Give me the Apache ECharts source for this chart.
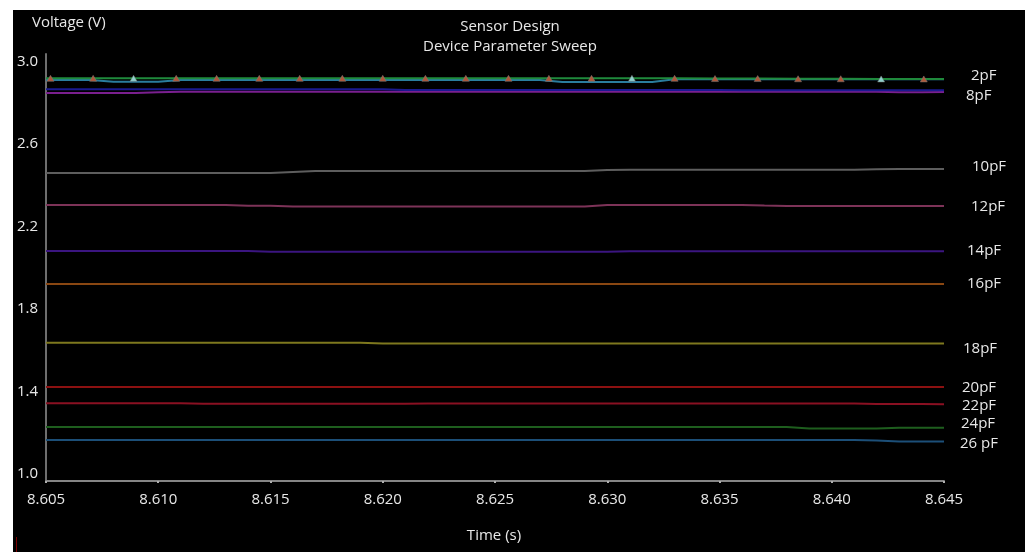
<!DOCTYPE html>
<html>
<head>
<meta charset="utf-8">
<script src="https://cdn.jsdelivr.net/npm/echarts@6/dist/echarts.min.js"></script>
<style>
  html, body { margin: 0; padding: 0; background: #ffffff; }
  #chart { position: absolute; left: 13px; top: 10px; width: 1012px; height: 542px; background: #000000; }
</style>
</head>
<body>
<div id="chart"></div>
<script>
// Sample times (s) shared by most traces
const sweepTimes = [
  8.605, 8.606, 8.607, 8.608, 8.609, 8.610, 8.611, 8.612, 8.613, 8.614,
  8.615, 8.616, 8.617, 8.618, 8.619, 8.620, 8.621, 8.622, 8.623, 8.624,
  8.625, 8.626, 8.627, 8.628, 8.629, 8.630, 8.631, 8.632, 8.633, 8.634,
  8.635, 8.636, 8.637, 8.638, 8.639, 8.640, 8.641, 8.642, 8.643, 8.644,
  8.645
];

// The 2pF trace is logged with its own marker samples
const trace2Times = [
  8.6050, 8.6052, 8.6071, 8.6089, 8.6108, 8.6126, 8.6145, 8.6163, 8.6182,
  8.6200, 8.6219, 8.6237, 8.6256, 8.6274, 8.6293, 8.6311, 8.6330, 8.6348,
  8.6367, 8.6385, 8.6404, 8.6422, 8.6441, 8.6450
];
const v2pF = [
  2.952, 2.952, 2.952, 2.952, 2.952, 2.952, 2.952, 2.952, 2.952,
  2.952, 2.952, 2.952, 2.952, 2.952, 2.952, 2.952, 2.952, 2.951,
  2.951, 2.950, 2.950, 2.949, 2.949, 2.949
];

const v4pF = [
  2.944, 2.944, 2.944, 2.935, 2.935, 2.935, 2.944, 2.944, 2.944, 2.944,
  2.944, 2.944, 2.944, 2.944, 2.944, 2.944, 2.944, 2.944, 2.944, 2.944,
  2.944, 2.944, 2.944, 2.934, 2.934, 2.934, 2.934, 2.934, 2.948, 2.948,
  2.948, 2.948, 2.948, 2.948, 2.948, 2.948, 2.948, 2.948, 2.948, 2.948,
  2.948
];
const v6pF = [
  2.899, 2.899, 2.899, 2.899, 2.899, 2.899, 2.899, 2.899, 2.899, 2.899,
  2.899, 2.899, 2.899, 2.899, 2.899, 2.899, 2.896, 2.896, 2.896, 2.896,
  2.896, 2.896, 2.896, 2.896, 2.896, 2.896, 2.896, 2.896, 2.896, 2.896,
  2.896, 2.894, 2.894, 2.894, 2.894, 2.894, 2.894, 2.894, 2.894, 2.894,
  2.894
];
const v8pF = [
  2.881, 2.881, 2.881, 2.881, 2.881, 2.884, 2.887, 2.887, 2.887, 2.887,
  2.887, 2.887, 2.887, 2.887, 2.887, 2.887, 2.887, 2.887, 2.887, 2.887,
  2.887, 2.887, 2.887, 2.887, 2.887, 2.887, 2.887, 2.887, 2.887, 2.887,
  2.887, 2.887, 2.887, 2.887, 2.887, 2.887, 2.887, 2.887, 2.884, 2.884,
  2.886
];
const v10pF = [
  2.493, 2.493, 2.493, 2.493, 2.493, 2.493, 2.493, 2.493, 2.493, 2.493,
  2.493, 2.498, 2.503, 2.503, 2.503, 2.503, 2.503, 2.503, 2.503, 2.503,
  2.503, 2.503, 2.503, 2.503, 2.503, 2.508, 2.509, 2.509, 2.509, 2.509,
  2.509, 2.509, 2.509, 2.509, 2.509, 2.509, 2.509, 2.511, 2.512, 2.512,
  2.512
];
const v12pF = [
  2.338, 2.338, 2.338, 2.338, 2.338, 2.338, 2.338, 2.338, 2.338, 2.334,
  2.334, 2.331, 2.331, 2.331, 2.331, 2.331, 2.331, 2.331, 2.331, 2.331,
  2.331, 2.331, 2.331, 2.331, 2.331, 2.338, 2.338, 2.338, 2.338, 2.338,
  2.338, 2.338, 2.335, 2.333, 2.333, 2.333, 2.333, 2.333, 2.333, 2.333,
  2.333
];
const v14pF = [
  2.115, 2.115, 2.115, 2.115, 2.115, 2.115, 2.115, 2.115, 2.115, 2.115,
  2.111, 2.111, 2.111, 2.111, 2.111, 2.111, 2.111, 2.111, 2.111, 2.111,
  2.111, 2.111, 2.111, 2.111, 2.111, 2.111, 2.114, 2.114, 2.114, 2.114,
  2.114, 2.114, 2.114, 2.114, 2.114, 2.114, 2.114, 2.114, 2.114, 2.114,
  2.114
];
const v16pF = [
  1.955, 1.955, 1.955, 1.955, 1.955, 1.955, 1.955, 1.955, 1.955, 1.955,
  1.955, 1.955, 1.955, 1.955, 1.955, 1.955, 1.955, 1.955, 1.955, 1.955,
  1.955, 1.955, 1.955, 1.955, 1.955, 1.955, 1.955, 1.955, 1.955, 1.955,
  1.955, 1.955, 1.955, 1.955, 1.955, 1.955, 1.955, 1.955, 1.955, 1.955,
  1.955
];
const v18pF = [
  1.670, 1.670, 1.670, 1.670, 1.670, 1.670, 1.670, 1.670, 1.670, 1.670,
  1.670, 1.670, 1.670, 1.670, 1.670, 1.667, 1.667, 1.667, 1.667, 1.667,
  1.667, 1.667, 1.667, 1.667, 1.667, 1.667, 1.667, 1.667, 1.667, 1.667,
  1.667, 1.667, 1.667, 1.667, 1.667, 1.667, 1.667, 1.667, 1.667, 1.667,
  1.667
];
const v20pF = [
  1.456, 1.456, 1.456, 1.456, 1.456, 1.456, 1.456, 1.456, 1.456, 1.456,
  1.456, 1.456, 1.456, 1.456, 1.456, 1.456, 1.456, 1.456, 1.456, 1.456,
  1.456, 1.456, 1.456, 1.456, 1.456, 1.456, 1.456, 1.456, 1.456, 1.456,
  1.456, 1.456, 1.456, 1.456, 1.456, 1.456, 1.456, 1.456, 1.456, 1.456,
  1.456
];
const v22pF = [
  1.377, 1.377, 1.377, 1.377, 1.377, 1.377, 1.377, 1.374, 1.374, 1.374,
  1.374, 1.374, 1.374, 1.374, 1.374, 1.374, 1.374, 1.376, 1.376, 1.376,
  1.376, 1.376, 1.376, 1.376, 1.376, 1.376, 1.376, 1.376, 1.376, 1.376,
  1.376, 1.376, 1.376, 1.376, 1.376, 1.376, 1.376, 1.373, 1.373, 1.373,
  1.372
];
const v24pF = [
  1.262, 1.262, 1.262, 1.262, 1.262, 1.262, 1.262, 1.262, 1.262, 1.262,
  1.262, 1.262, 1.262, 1.262, 1.262, 1.262, 1.262, 1.262, 1.262, 1.262,
  1.262, 1.262, 1.262, 1.262, 1.262, 1.262, 1.262, 1.262, 1.262, 1.262,
  1.262, 1.262, 1.262, 1.262, 1.255, 1.255, 1.255, 1.255, 1.258, 1.258,
  1.258
];
const v26pF = [
  1.199, 1.199, 1.199, 1.199, 1.199, 1.199, 1.199, 1.199, 1.199, 1.199,
  1.199, 1.199, 1.199, 1.199, 1.199, 1.199, 1.199, 1.199, 1.199, 1.199,
  1.199, 1.199, 1.199, 1.199, 1.199, 1.199, 1.199, 1.199, 1.199, 1.199,
  1.199, 1.199, 1.199, 1.199, 1.199, 1.199, 1.199, 1.196, 1.191, 1.191,
  1.191
];

// Axis tick labels
const timeTicks = ['8.605', '8.610', '8.615', '8.620', '8.625', '8.630', '8.635', '8.640', '8.645'];
const voltTicks = ['1.0', '1.4', '1.8', '2.2', '2.6', '3.0'];

const FONT = '"Open Sans", "Noto Sans", sans-serif';
const FS = 15;
const TXT = '#e8e8e8';

// name, values, times, colour, label text, label offset [dx, dy]
const traces = [
  { name: '2pF',  values: v2pF,  times: trace2Times, color: '#1f8a3c', label: '2pF',   off: [27, -3] },
  { name: '4pF',  values: v4pF,  times: sweepTimes,  color: '#2a7d9e', label: null },
  { name: '6pF',  values: v6pF,  times: sweepTimes,  color: '#1a1a90', label: null },
  { name: '8pF',  values: v8pF,  times: sweepTimes,  color: '#7a1f8f', label: '8pF',   off: [22, 4] },
  { name: '10pF', values: v10pF, times: sweepTimes,  color: '#5e5e5e', label: '10pF',  off: [28, -2] },
  { name: '12pF', values: v12pF, times: sweepTimes,  color: '#7d3358', label: '12pF',  off: [27, 1] },
  { name: '14pF', values: v14pF, times: sweepTimes,  color: '#3b1580', label: '14pF',  off: [23, 0] },
  { name: '16pF', values: v16pF, times: sweepTimes,  color: '#8a4712', label: '16pF',  off: [23, 0] },
  { name: '18pF', values: v18pF, times: sweepTimes,  color: '#7e781e', label: '18pF',  off: [19, 5] },
  { name: '20pF', values: v20pF, times: sweepTimes,  color: '#8c1111', label: '20pF',  off: [18, 1] },
  { name: '22pF', values: v22pF, times: sweepTimes,  color: '#8a1022', label: '22pF',  off: [18, 1] },
  { name: '24pF', values: v24pF, times: sweepTimes,  color: '#1e5e1e', label: '24pF',  off: [17, -4] },
  { name: '26pF', values: v26pF, times: sweepTimes,  color: '#1c4f78', label: '26 pF', off: [16, 2] }
];

// Marker colours along the 2pF trace (a few samples show the cyan overlay)
const cyanMarkers = [3, 15, 21];

const series = traces.map(function (t, k) {
  const s = {
    name: t.name,
    type: 'line',
    data: t.times.map(function (x, i) { return [x, t.values[i]]; }),
    showSymbol: false,
    symbol: 'none',
    animation: false,
    z: 20 - k,
    lineStyle: { color: t.color, width: 2 },
    itemStyle: { color: t.color }
  };
  if (t.label) {
    s.endLabel = {
      show: true,
      formatter: t.label,
      color: TXT,
      fontFamily: FONT,
      fontSize: FS,
      distance: 0,
      offset: t.off
    };
  }
  if (k === 0) {
    s.showSymbol = true;
    s.symbol = 'triangle';
    s.symbolSize = function (val, p) {
      return (p.dataIndex === 0 || p.dataIndex === t.times.length - 1) ? 0 : [7, 6];
    };
    s.itemStyle = {
      color: function (p) {
        return cyanMarkers.indexOf(p.dataIndex) >= 0 ? '#8fd0cc' : '#b0583a';
      },
      borderColor: '#7a7a7a',
      borderWidth: 0.5
    };
    s.z = 30;
  }
  return s;
});

const chart = echarts.init(document.getElementById('chart'), null, { renderer: 'canvas' });
chart.setOption({
  backgroundColor: '#000000',
  animation: false,
  title: [
    {
      text: 'Sensor Design\nDevice Parameter Sweep',
      left: 492, top: 2, textAlign: 'center',
      textStyle: { color: TXT, fontFamily: FONT, fontSize: FS, fontWeight: 'normal', lineHeight: 20 }
    },
    {
      text: 'Voltage (V)',
      left: 14, top: 0,
      textStyle: { color: TXT, fontFamily: FONT, fontSize: FS, fontWeight: 'normal', lineHeight: 15 }
    },
    {
      text: 'Time (s)',
      left: 476, top: 513, textAlign: 'center',
      textStyle: { color: TXT, fontFamily: FONT, fontSize: FS, fontWeight: 'normal', lineHeight: 15 }
    }
  ],
  grid: { left: 33, right: 81, top: 44, bottom: 71, containLabel: false },
  xAxis: {
    type: 'value',
    min: 8.605, max: 8.645, interval: 0.005,
    axisLine: { show: true, lineStyle: { color: '#858585', width: 2 } },
    axisTick: { show: true, length: 2, lineStyle: { color: '#b0b0b0', width: 2 } },
    splitLine: { show: false },
    axisLabel: {
      color: TXT, fontFamily: FONT, fontSize: FS, margin: 11, lineHeight: 15,
      formatter: function (v) {
        const s = v.toFixed(3);
        return timeTicks.indexOf(s) >= 0 ? s : '';
      }
    }
  },
  yAxis: {
    type: 'value',
    min: 1.0, max: 3.07, interval: 0.4,
    axisLine: { show: true, lineStyle: { color: '#6e6e6e', width: 2 } },
    axisTick: { show: false },
    splitLine: { show: false },
    axisLabel: {
      color: TXT, fontFamily: FONT, fontSize: FS, margin: 8,
      verticalAlign: 'bottom', lineHeight: 14, showMaxLabel: false,
      formatter: function (v) {
        const s = v.toFixed(1);
        return voltTicks.indexOf(s) >= 0 ? s : '';
      }
    }
  },
  graphic: [
    { type: 'line', shape: { x1: 3.5, y1: 527, x2: 3.5, y2: 542 }, style: { stroke: '#7a0000', lineWidth: 1 } }
  ],
  series: series
});
</script>
</body>
</html>
